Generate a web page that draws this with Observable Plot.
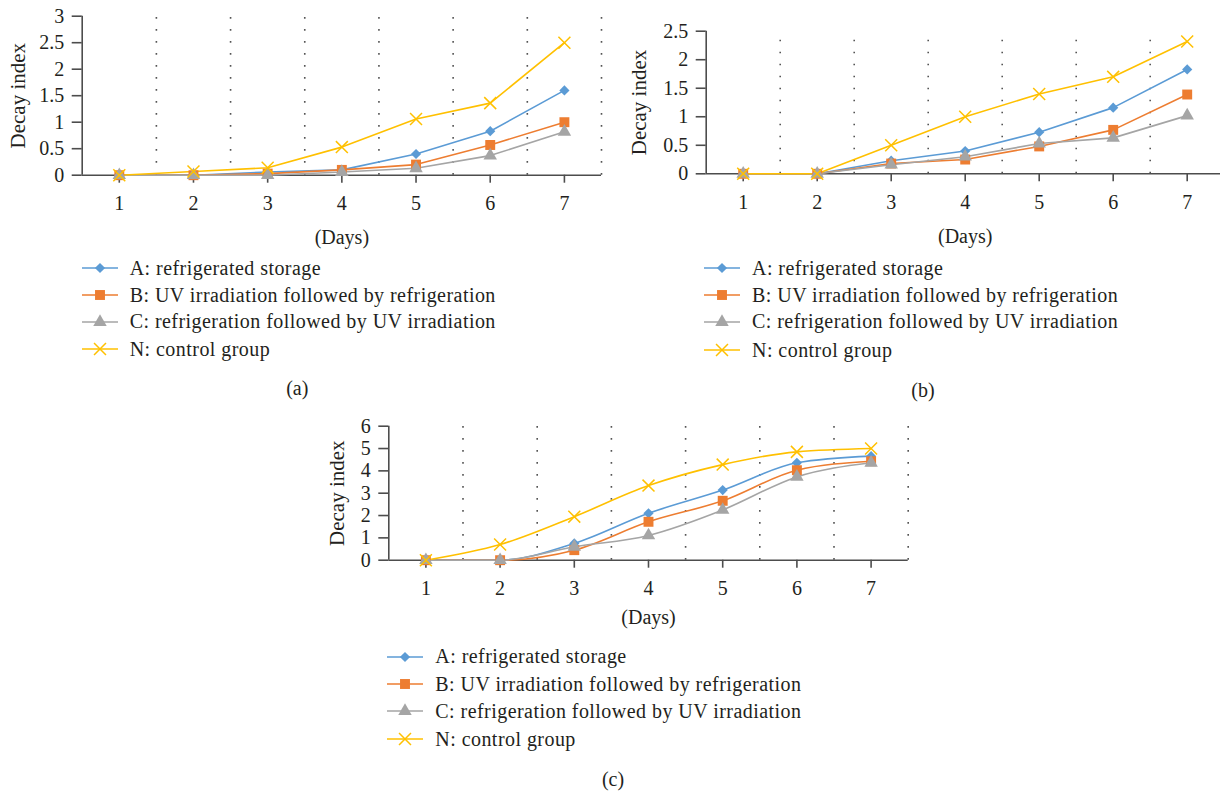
<!DOCTYPE html>
<html>
<head>
<meta charset="utf-8">
<script src="https://cdn.jsdelivr.net/npm/d3@7"></script>
<script src="https://cdn.jsdelivr.net/npm/@observablehq/plot@0.6"></script>
<style>
  html, body { margin: 0; padding: 0; background: #fff; }
  body { width: 1220px; height: 793px; overflow: hidden; position: relative;
         font-family: "Liberation Serif", "Times New Roman", serif; color: #231f20; }
  .panel { position: absolute; }
  svg.panel, svg.panel text { font-family: "Liberation Serif", "Times New Roman", serif !important; }
  svg.panel { font-size: 20px !important; }
  .legend-row { position: absolute; height: 24px; display: flex; align-items: center;
                font-size: 20px; white-space: nowrap; letter-spacing: 0.45px;
                font-family: "Liberation Serif", "Times New Roman", serif; }
  .legend-row svg { margin-right: 12px; }
  .panel-label { position: absolute; font-size: 20px; transform: translate(-50%, -50%);
                 font-family: "Liberation Serif", "Times New Roman", serif; }
</style>
</head>
<body>
<script>
// ---- data ----
const days = [1, 2, 3, 4, 5, 6, 7];
const seriesNames = [
  "A: refrigerated storage",
  "B: UV irradiation followed by refrigeration",
  "C: refrigeration followed by UV irradiation",
  "N: control group"
];
const seriesColors = ["#5B9BD5", "#ED7D31", "#A5A5A5", "#FFC000"];
const seriesSymbols = ["diamond2", "square", "triangle", "times"];

// panel (a)
const a_A = [0, 0, 0.06, 0.10, 0.40, 0.83, 1.60];
const a_B = [0, 0, 0.03, 0.10, 0.20, 0.57, 1.00];
const a_C = [0, 0, 0.00, 0.06, 0.13, 0.37, 0.82];
const a_N = [0, 0.07, 0.14, 0.53, 1.06, 1.36, 2.50];
// panel (b)
const b_A = [0, 0, 0.23, 0.40, 0.73, 1.16, 1.83];
const b_B = [0, 0, 0.18, 0.25, 0.48, 0.77, 1.39];
const b_C = [0, 0, 0.16, 0.30, 0.53, 0.63, 1.02];
const b_N = [0, 0, 0.50, 1.00, 1.40, 1.70, 2.32];
// panel (c)
const c_A = [0, 0, 0.75, 2.10, 3.14, 4.36, 4.66];
const c_B = [0, 0, 0.45, 1.72, 2.66, 4.03, 4.43];
const c_C = [0, 0, 0.60, 1.11, 2.25, 3.73, 4.36];
const c_N = [0, 0.70, 1.95, 3.34, 4.28, 4.85, 5.00];

const yTicksA = [0, 0.5, 1, 1.5, 2, 2.5, 3];
const yTicksB = [0, 0.5, 1, 1.5, 2, 2.5];
const yTicksC = [0, 1, 2, 3, 4, 5, 6];
const xLabel = "(Days)";
const yLabel = "Decay index";
const panelLabels = ["(a)", "(b)", "(c)"];

// ---- helpers ----
function toRows(lists) {
  const rows = [];
  lists.forEach((vals, s) => vals.forEach((v, i) => rows.push({day: days[i], value: v, s})));
  return rows;
}
const symbolR = {diamond2: 4.6, square: 5.6, triangle: 5.0, times: 5.5};
const axisColor = "#4d4d4d";

function panel({lists, yMax, yTicks, left, top, width, height, mL, mR, mT, mB, yLabelDx, xLabelDy, curve}) {
  const rows = toRows(lists);
  const gridX = days.map(d => d + 0.5);
  const marks = [
    Plot.ruleX(gridX, {stroke: "#555", strokeWidth: 1.6, strokeDasharray: "1.6,10.4", y1: 0, y2: yMax}),
    Plot.ruleY([0], {stroke: axisColor, strokeWidth: 1.6}),
    Plot.ruleX([0.5], {stroke: axisColor, strokeWidth: 1.6, y1: 0, y2: yMax})
  ];
  seriesNames.forEach((name, s) => {
    const data = rows.filter(r => r.s === s);
    marks.push(Plot.line(data, {x: "day", y: "value", stroke: seriesColors[s], strokeWidth: 1.6, curve}));
  });
  seriesNames.forEach((name, s) => {
    const data = rows.filter(r => r.s === s);
    const sym = seriesSymbols[s];
    if (sym === "times") {
      marks.push(Plot.dot(data, {x: "day", y: "value", symbol: sym, r: symbolR[sym], stroke: seriesColors[s], strokeWidth: 1.5, fill: "none"}));
    } else {
      marks.push(Plot.dot(data, {x: "day", y: "value", symbol: sym, r: symbolR[sym], fill: seriesColors[s], stroke: "none"}));
    }
  });
  marks.push(Plot.text([xLabel], {text: d => d, frameAnchor: "bottom", textAnchor: "middle", lineAnchor: "middle", dy: xLabelDy, fontSize: 20}));
  marks.push(Plot.text([yLabel], {text: d => d, frameAnchor: "left", textAnchor: "middle", lineAnchor: "middle", dx: yLabelDx, rotate: -90, fontSize: 21}));

  const svg = Plot.plot({
    width, height,
    marginLeft: mL, marginRight: mR, marginTop: mT, marginBottom: mB,
    style: {fontFamily: "Liberation Serif", fontSize: "20px", color: "#231f20", background: "transparent", overflow: "visible"},
    x: {type: "linear", domain: [0.5, 7.5], ticks: days, tickFormat: d => String(d), tickSize: 8, tickPadding: 13, label: null},
    y: {type: "linear", domain: [0, yMax], ticks: yTicks, tickFormat: d => String(d), tickSize: 10, tickPadding: 8, label: null},
    marks
  });
  svg.classList.add("panel");
  svg.style.left = left + "px";
  svg.style.top = top + "px";
  svg.querySelectorAll("[aria-label='x-axis'] line, [aria-label='y-axis'] line, [aria-label='x-axis tick'] path, [aria-label='y-axis tick'] path")
    .forEach(el => { el.setAttribute("stroke", axisColor); el.setAttribute("stroke-width", "1.6"); });
  document.body.appendChild(svg);
}

function legend(x, ys) {
  seriesNames.forEach((name, s) => {
    const row = document.createElement("div");
    row.className = "legend-row";
    row.style.left = x + "px";
    row.style.top = (ys[s] - 12) + "px";
    const sw = d3.create("svg").attr("width", 36).attr("height", 24);
    sw.append("line").attr("x1", 0).attr("x2", 36).attr("y1", 12).attr("y2", 12)
      .attr("stroke", seriesColors[s]).attr("stroke-width", 1.6);
    const sym = seriesSymbols[s];
    const symType = {diamond2: d3.symbolDiamond2, square: d3.symbolSquare, triangle: d3.symbolTriangle, times: d3.symbolTimes}[sym];
    const r = symbolR[sym];
    const path = sw.append("path").attr("transform", "translate(18,12)")
      .attr("d", d3.symbol(symType, Math.PI * r * r)());
    if (sym === "times") path.attr("fill", "none").attr("stroke", seriesColors[s]).attr("stroke-width", 1.5);
    else path.attr("fill", seriesColors[s]);
    row.appendChild(sw.node());
    const span = document.createElement("span");
    span.textContent = name;
    row.appendChild(span);
    document.body.appendChild(row);
  });
}

function label(text, x, y) {
  const d = document.createElement("div");
  d.className = "panel-label";
  d.textContent = text;
  d.style.left = x + "px";
  d.style.top = y + "px";
  document.body.appendChild(d);
}

// ---- panels ----
panel({lists: [a_A, a_B, a_C, a_N], yMax: 3, yTicks: yTicksA,
  left: 0, top: 0, width: 610, height: 260, mL: 81.7, mR: 9, mT: 15.7, mB: 85.3,
  yLabelDx: -63.7, xLabelDy: 62, curve: "linear"});
panel({lists: [b_A, b_B, b_C, b_N], yMax: 2.5, yTicks: yTicksB,
  left: 610, top: 0, width: 620, height: 260, mL: 95.7, mR: 6.3, mT: 30.7, mB: 86.7,
  yLabelDx: -67.4, xLabelDy: 63, curve: "linear"});
panel({lists: [c_A, c_B, c_C, c_N], yMax: 6, yTicks: yTicksC,
  left: 300, top: 400, width: 620, height: 240, mL: 88.3, mR: 12.3, mT: 25.7, mB: 80.3,
  yLabelDx: -51.6, xLabelDy: 57, curve: "monotone-x"});

// ---- legends ----
legend(81.7, [268.3, 295, 321.7, 349.3]);
legend(704, [268, 295, 321.7, 350]);
legend(387.3, [656.7, 684, 711, 739.3]);

label(panelLabels[0], 297.3, 388);
label(panelLabels[1], 923, 390);
label(panelLabels[2], 613, 779);
</script>
</body>
</html>
